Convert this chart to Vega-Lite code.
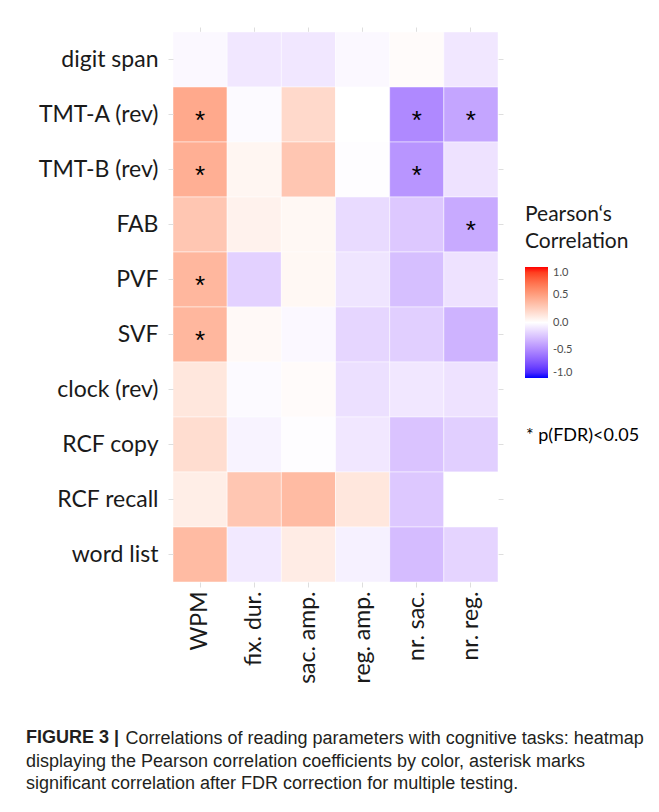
{
  "$schema": "https://vega.github.io/schema/vega-lite/v6.json",
  "width": 325,
  "height": 550,
  "autosize": "none",
  "padding": {"left": 173, "top": 32, "right": 161, "bottom": 230},
  "background": "white",
  "config": {
    "view": {"stroke": null},
    "locale": {"number": {"decimal": ".", "thousands": ",", "grouping": [3], "currency": ["$", ""], "minus": "-"}}
  },
  "title": {
    "text": "FIGURE 3 |",
    "subtitle": [
      "displaying the Pearson correlation coefficients by color, asterisk marks",
      "significant correlation after FDR correction for multiple testing."
    ],
    "orient": "bottom",
    "anchor": "start",
    "frame": "group",
    "dx": -147,
    "offset": -18,
    "font": "Liberation Sans",
    "fontSize": 18,
    "fontWeight": "bold",
    "color": "#231f20",
    "lineHeight": 22,
    "subtitleFont": "Liberation Sans",
    "subtitleFontSize": 18,
    "subtitleColor": "#231f20",
    "subtitleLineHeight": 22,
    "subtitlePadding": 6
  },
  "data": {
    "values": [
      {"task": "digit span", "param": "WPM", "r": -0.03, "p": "ns"},
      {"task": "digit span", "param": "fix. dur.", "r": -0.1, "p": "ns"},
      {"task": "digit span", "param": "sac. amp.", "r": -0.1, "p": "ns"},
      {"task": "digit span", "param": "reg. amp.", "r": -0.03, "p": "ns"},
      {"task": "digit span", "param": "nr. sac.", "r": 0.02, "p": "ns"},
      {"task": "digit span", "param": "nr. reg.", "r": -0.1, "p": "ns"},
      {"task": "TMT-A (rev)", "param": "WPM", "r": 0.45, "p": "* p(FDR)<0.05"},
      {"task": "TMT-A (rev)", "param": "fix. dur.", "r": -0.02, "p": "ns"},
      {"task": "TMT-A (rev)", "param": "sac. amp.", "r": 0.2, "p": "ns"},
      {"task": "TMT-A (rev)", "param": "reg. amp.", "r": 0.0, "p": "ns"},
      {"task": "TMT-A (rev)", "param": "nr. sac.", "r": -0.5, "p": "* p(FDR)<0.05"},
      {"task": "TMT-A (rev)", "param": "nr. reg.", "r": -0.38, "p": "* p(FDR)<0.05"},
      {"task": "TMT-B (rev)", "param": "WPM", "r": 0.42, "p": "* p(FDR)<0.05"},
      {"task": "TMT-B (rev)", "param": "fix. dur.", "r": 0.05, "p": "ns"},
      {"task": "TMT-B (rev)", "param": "sac. amp.", "r": 0.3, "p": "ns"},
      {"task": "TMT-B (rev)", "param": "reg. amp.", "r": -0.01, "p": "ns"},
      {"task": "TMT-B (rev)", "param": "nr. sac.", "r": -0.45, "p": "* p(FDR)<0.05"},
      {"task": "TMT-B (rev)", "param": "nr. reg.", "r": -0.12, "p": "ns"},
      {"task": "FAB", "param": "WPM", "r": 0.3, "p": "ns"},
      {"task": "FAB", "param": "fix. dur.", "r": 0.07, "p": "ns"},
      {"task": "FAB", "param": "sac. amp.", "r": 0.04, "p": "ns"},
      {"task": "FAB", "param": "reg. amp.", "r": -0.15, "p": "ns"},
      {"task": "FAB", "param": "nr. sac.", "r": -0.23, "p": "ns"},
      {"task": "FAB", "param": "nr. reg.", "r": -0.36, "p": "* p(FDR)<0.05"},
      {"task": "PVF", "param": "WPM", "r": 0.38, "p": "* p(FDR)<0.05"},
      {"task": "PVF", "param": "fix. dur.", "r": -0.19, "p": "ns"},
      {"task": "PVF", "param": "sac. amp.", "r": 0.04, "p": "ns"},
      {"task": "PVF", "param": "reg. amp.", "r": -0.11, "p": "ns"},
      {"task": "PVF", "param": "nr. sac.", "r": -0.27, "p": "ns"},
      {"task": "PVF", "param": "nr. reg.", "r": -0.12, "p": "ns"},
      {"task": "SVF", "param": "WPM", "r": 0.38, "p": "* p(FDR)<0.05"},
      {"task": "SVF", "param": "fix. dur.", "r": 0.03, "p": "ns"},
      {"task": "SVF", "param": "sac. amp.", "r": -0.03, "p": "ns"},
      {"task": "SVF", "param": "reg. amp.", "r": -0.17, "p": "ns"},
      {"task": "SVF", "param": "nr. sac.", "r": -0.2, "p": "ns"},
      {"task": "SVF", "param": "nr. reg.", "r": -0.32, "p": "ns"},
      {"task": "clock (rev)", "param": "WPM", "r": 0.13, "p": "ns"},
      {"task": "clock (rev)", "param": "fix. dur.", "r": -0.02, "p": "ns"},
      {"task": "clock (rev)", "param": "sac. amp.", "r": 0.02, "p": "ns"},
      {"task": "clock (rev)", "param": "reg. amp.", "r": -0.13, "p": "ns"},
      {"task": "clock (rev)", "param": "nr. sac.", "r": -0.1, "p": "ns"},
      {"task": "clock (rev)", "param": "nr. reg.", "r": -0.12, "p": "ns"},
      {"task": "RCF copy", "param": "WPM", "r": 0.18, "p": "ns"},
      {"task": "RCF copy", "param": "fix. dur.", "r": -0.05, "p": "ns"},
      {"task": "RCF copy", "param": "sac. amp.", "r": -0.01, "p": "ns"},
      {"task": "RCF copy", "param": "reg. amp.", "r": -0.1, "p": "ns"},
      {"task": "RCF copy", "param": "nr. sac.", "r": -0.25, "p": "ns"},
      {"task": "RCF copy", "param": "nr. reg.", "r": -0.2, "p": "ns"},
      {"task": "RCF recall", "param": "WPM", "r": 0.09, "p": "ns"},
      {"task": "RCF recall", "param": "fix. dur.", "r": 0.3, "p": "ns"},
      {"task": "RCF recall", "param": "sac. amp.", "r": 0.36, "p": "ns"},
      {"task": "RCF recall", "param": "reg. amp.", "r": 0.13, "p": "ns"},
      {"task": "RCF recall", "param": "nr. sac.", "r": -0.23, "p": "ns"},
      {"task": "RCF recall", "param": "nr. reg.", "r": 0.0, "p": "ns"},
      {"task": "word list", "param": "WPM", "r": 0.36, "p": "ns"},
      {"task": "word list", "param": "fix. dur.", "r": -0.09, "p": "ns"},
      {"task": "word list", "param": "sac. amp.", "r": 0.1, "p": "ns"},
      {"task": "word list", "param": "reg. amp.", "r": -0.06, "p": "ns"},
      {"task": "word list", "param": "nr. sac.", "r": -0.28, "p": "ns"},
      {"task": "word list", "param": "nr. reg.", "r": -0.18, "p": "ns"}
    ]
  },
  "layer": [
    {
      "mark": {"type": "rect", "stroke": "#ffffff", "strokeWidth": 0.8, "strokeOpacity": 0.6},
      "encoding": {
        "x": {
          "field": "param", "type": "nominal",
          "sort": ["WPM", "fix. dur.", "sac. amp.", "reg. amp.", "nr. sac.", "nr. reg."],
          "scale": {"paddingInner": 0, "paddingOuter": 0},
          "axis": {
            "orient": "bottom", "domain": false, "grid": false,
            "tickColor": "#dedede", "tickSize": 5, "tickWidth": 1,
            "labelAngle": 270, "labelAlign": "right", "labelBaseline": "middle",
            "labelPadding": 4, "labelFont": "Lato", "labelFontSize": 23, "labelColor": "#1a1a1a",
            "title": "Correlations of reading parameters with cognitive tasks: heatmap",
            "titleX": -48, "titleY": 161, "titleAlign": "left", "titleAnchor": "start", "titleBaseline": "alphabetic",
            "titleFont": "Liberation Sans", "titleFontSize": 18, "titleFontWeight": "normal", "titleColor": "#231f20"
          }
        },
        "y": {
          "field": "task", "type": "nominal",
          "sort": ["digit span", "TMT-A (rev)", "TMT-B (rev)", "FAB", "PVF", "SVF", "clock (rev)", "RCF copy", "RCF recall", "word list"],
          "scale": {"paddingInner": 0, "paddingOuter": 0},
          "axis": {
            "orient": "left", "title": null, "domain": false, "grid": false,
            "tickColor": "#dedede", "tickSize": 5, "tickWidth": 1,
            "labelPadding": 10, "labelFont": "Lato", "labelFontSize": 23, "labelColor": "#1a1a1a"
          }
        },
        "color": {
          "field": "r", "type": "quantitative",
          "scale": {"domain": [-1, 0, 1], "range": ["#0000ff", "#ffffff", "#ff0000"], "interpolate": "lab"},
          "legend": {
            "orient": "none", "legendX": 352, "legendY": 172,
            "title": ["Pearson\u2018s", "Correlation"],
            "titleFont": "Lato", "titleFontSize": 21, "titleFontWeight": "normal", "titleColor": "#1a1a1a",
            "titleLineHeight": 27, "titlePadding": 15, "titleBaseline": "top",
            "gradientLength": 111, "gradientThickness": 23, "gradientStrokeWidth": 0,
            "values": [-1, -0.5, 0, 0.5, 1], "format": ".1f",
            "labelFont": "Lato", "labelFontSize": 11, "labelColor": "#4d4d4d", "labelOffset": 5,
            "padding": 0
          }
        }
      }
    },
    {
      "transform": [{"filter": "datum.p != 'ns'"}],
      "mark": {"type": "text", "text": "*", "font": "Liberation Sans", "fontSize": 26, "baseline": "middle", "dy": 6},
      "encoding": {
        "x": {
          "field": "param", "type": "nominal",
          "sort": ["WPM", "fix. dur.", "sac. amp.", "reg. amp.", "nr. sac.", "nr. reg."],
          "axis": {"orient": "top", "title": null, "domain": false, "grid": false, "labels": false, "tickColor": "#dedede", "tickSize": 5}
        },
        "y": {
          "field": "task", "type": "nominal",
          "sort": ["digit span", "TMT-A (rev)", "TMT-B (rev)", "FAB", "PVF", "SVF", "clock (rev)", "RCF copy", "RCF recall", "word list"],
          "axis": {"orient": "right", "title": null, "domain": false, "grid": false, "labels": false, "tickColor": "#dedede", "tickSize": 5}
        },
        "color": {
          "field": "p", "type": "nominal",
          "scale": {"range": ["#000000"]},
          "legend": {
            "orient": "none", "legendX": 335, "legendY": 395,
            "title": null, "symbolSize": 0, "symbolStrokeWidth": 0, "symbolOpacity": 0,
            "labelFont": "Lato", "labelFontSize": 18, "labelColor": "#000000", "labelOffset": 0,
            "padding": 0
          }
        }
      }
    }
  ],
  "resolve": {"axis": {"x": "independent", "y": "independent"}, "scale": {"color": "independent"}}
}
